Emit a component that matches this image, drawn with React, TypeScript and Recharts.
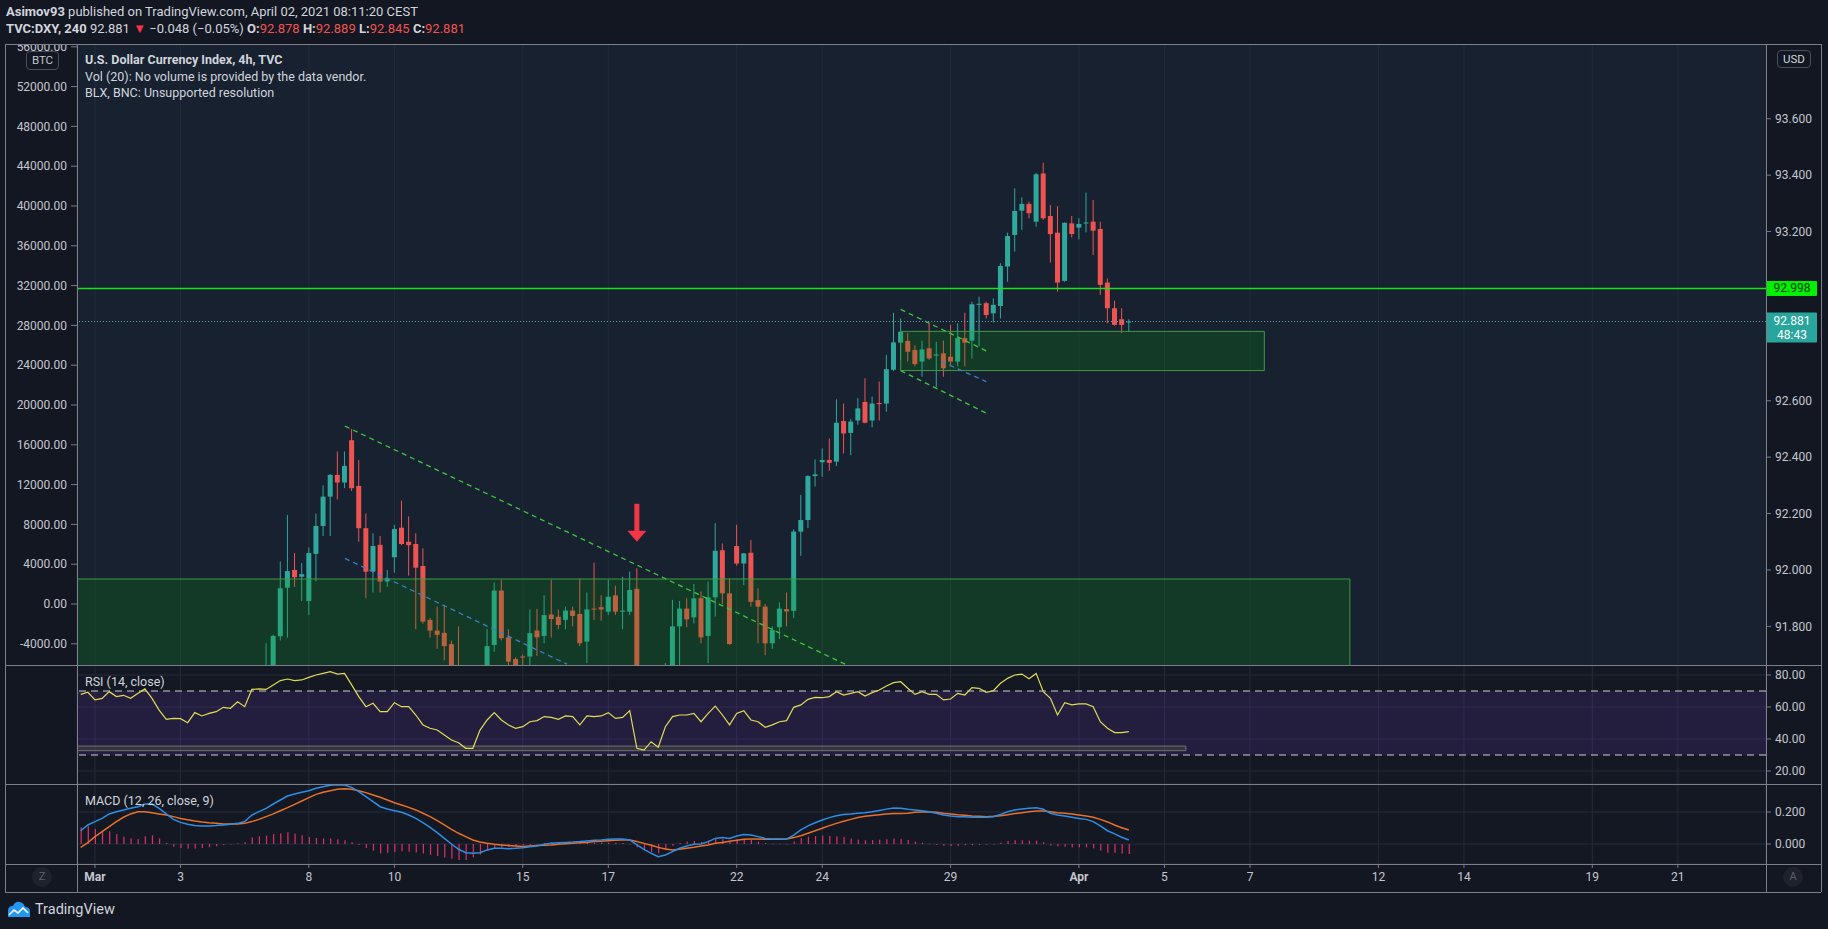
import React from 'react';
import {
  ComposedChart,
  Bar,
  Line,
  XAxis,
  YAxis,
  CartesianGrid,
  ReferenceArea,
  ReferenceLine,
  ReferenceDot,
} from 'recharts';

// ---------------- DATA ----------------
// bar index of the first entry (4h bars, 6 per trading day; index 0 = 1 March first bar)
const FIRST_INDEX = -2;

// OHLC (null = bar lies fully below the visible price range)
const openVals = [
  null, null,
  null, null, null, null, null, null,
  null, null, null, null, null, null,
  null, null, null, null, null, null,
  null, null, null, null, null, null,
  91.60, 91.63, 91.765, 91.937, 92.0, 91.976,
  91.89, 92.057, 92.156, 92.26, 92.337, 92.31,
  92.46, 92.298, 92.148, 91.994, 92.089, 91.959,
  92.045, 92.15, 92.10, 92.092, 92.014, 91.823,
  91.785, 91.777, 91.737, 91.63, null, null,
  null, 91.62, 91.734, 91.927, 91.761, 91.684,
  91.693, 91.693, 91.785, 91.766, 91.842, 91.834,
  91.823, 91.856, 91.844, 91.746, 91.863, 91.868,
  91.852, 91.91, 91.852, 91.852, 91.933, null,
  null, null, 91.60, 91.64, 91.80, 91.863,
  91.832, 91.9, 91.766, 91.903, 92.07, 91.917,
  92.085, 92.023, 92.061, 91.893, 91.87, 91.74,
  91.797, 91.861, 91.855, 92.136, 92.177, 92.333,
  92.382, 92.39, 92.384, 92.528, 92.486, 92.53,
  92.596, 92.53, 92.592, 92.59, 92.71, 92.806,
  92.812, 92.78, 92.739, 92.786, 92.76, 92.768,
  92.756, 92.739, 92.822, 92.813, 92.94, 92.946,
  92.91, 92.936, 93.076, 93.188, 93.274, 93.298,
  93.235, 93.406, 93.255, 93.196, 93.025, 93.229,
  93.214, 93.229, 93.235, 93.209, 93.019, 92.928,
  92.889, 92.878,
];
const highVals = [
  null, null,
  null, null, null, null, null, null,
  null, null, null, null, null, null,
  null, null, null, null, null, null,
  null, null, null, null, null, null,
  91.74, 91.77, 92.03, 92.195, 92.06, 92.025,
  92.08, 92.20, 92.30, 92.34, 92.42, 92.42,
  92.50, 92.39, 92.20, 92.13, 92.12, 92.0,
  92.16, 92.246, 92.19, 92.13, 92.077, 91.83,
  91.87, 91.876, 91.75, 91.80, null, null,
  null, 91.79, 91.955, 91.965, 91.79, 91.69,
  91.70, 91.86, 91.862, 91.91, 91.965, 91.86,
  91.87, 91.87, 91.97, 91.92, 92.026, 91.91,
  91.965, 91.944, 91.976, 91.994, 92.006, null,
  null, null, 91.67, 91.894, 91.89, 91.90,
  91.95, 91.924, 91.959, 92.166, 92.094, 91.97,
  92.16, 92.06, 92.106, 91.935, 91.88, 91.80,
  91.885, 91.92, 92.144, 92.266, 92.336, 92.392,
  92.431, 92.466, 92.605, 92.59, 92.535, 92.609,
  92.68, 92.615, 92.668, 92.763, 92.912, 92.892,
  92.841, 92.797, 92.813, 92.875, 92.809, 92.813,
  92.869, 92.875, 92.912, 92.951, 92.969, 92.951,
  92.963, 93.088, 93.196, 93.353, 93.321, 93.306,
  93.408, 93.444, 93.294, 93.29, 93.232, 93.255,
  93.247, 93.338, 93.312, 93.235, 93.034, 92.955,
  92.928, 92.889,
];
const lowVals = [
  null, null,
  null, null, null, null, null, null,
  null, null, null, null, null, null,
  null, null, null, null, null, null,
  null, null, null, null, null, null,
  91.58, 91.62, 91.75, 91.76, 91.94, 91.89,
  91.84, 91.96, 92.12, 92.12, 92.25, 92.29,
  92.28, 92.10, 91.90, 91.92, 91.92, 91.94,
  91.99, 92.088, 91.98, 91.79, 91.81, 91.76,
  91.72, 91.68, 91.60, 91.58, null, null,
  null, 91.60, 91.71, 91.75, 91.66, 91.62,
  91.65, 91.66, 91.695, 91.74, 91.76, 91.79,
  91.79, 91.80, 91.73, 91.67, 91.823, 91.82,
  91.84, 91.84, 91.79, 91.84, 91.60, null,
  null, null, 91.58, 91.62, 91.66, 91.797,
  91.81, 91.74, 91.67, 91.835, 91.88, 91.735,
  92.015, 91.946, 91.87, 91.74, 91.698, 91.72,
  91.755, 91.80, 91.83, 92.05, 92.148, 92.296,
  92.33, 92.352, 92.368, 92.413, 92.407, 92.515,
  92.52, 92.506, 92.53, 92.561, 92.705, 92.745,
  92.739, 92.722, 92.685, 92.745, 92.648, 92.685,
  92.722, 92.722, 92.722, 92.75, 92.794, 92.892,
  92.877, 92.892, 93.022, 93.129, 93.206, 93.247,
  93.217, 93.241, 93.09, 92.987, 93.022, 93.179,
  93.172, 93.197, 93.117, 92.975, 92.875, 92.866,
  92.84, 92.845,
];
const closeVals = [
  null, null,
  null, null, null, null, null, null,
  null, null, null, null, null, null,
  null, null, null, null, null, null,
  null, null, null, null, null, null,
  91.63, 91.766, 91.935, 91.996, 91.974, 91.985,
  92.06, 92.156, 92.26, 92.337, 92.31, 92.369,
  92.29, 92.148, 91.994, 92.085, 91.959, 91.97,
  92.145, 92.092, 92.088, 92.008, 91.817, 91.785,
  91.77, 91.73, 91.64, 91.62, null, null,
  null, 91.73, 91.927, 91.758, 91.675, 91.64,
  91.69, 91.776, 91.761, 91.84, 91.826, 91.805,
  91.856, 91.837, 91.74, 91.86, 91.86, 91.86,
  91.905, 91.852, 91.856, 91.929, 91.63, null,
  null, null, 91.64, 91.80, 91.863, 91.825,
  91.899, 91.761, 91.903, 92.068, 91.917, 91.737,
  92.023, 92.059, 91.887, 91.87, 91.74, 91.787,
  91.863, 91.853, 92.136, 92.177, 92.333, 92.339,
  92.39, 92.38, 92.522, 92.484, 92.526, 92.573,
  92.522, 92.59, 92.588, 92.712, 92.807, 92.845,
  92.774, 92.73, 92.782, 92.75, 92.764, 92.715,
  92.739, 92.822, 92.806, 92.942, 92.944, 92.904,
  92.94, 93.078, 93.184, 93.273, 93.298, 93.265,
  93.403, 93.247, 93.191, 93.019, 93.231, 93.191,
  93.227, 93.232, 93.203, 93.011, 92.928, 92.869,
  92.869, 92.881,
];

// RSI (14, close)
const rsiVals = [
  67.9, 69.2,
  64.4, 65.4, 69.6, 66.5, 67.3, 65.4,
  68.5, 71.3, 65.4, 58.1, 52.3, 52.9,
  52.7, 50.2, 56.5, 54.4, 56.0, 57.1,
  59.8, 59.2, 63.3, 60.2, 71.0, 71.3,
  71.0, 73.8, 76.5, 77.5, 76.5, 76.9,
  78.5, 80.0, 81.0, 82.1, 80.6, 81.0,
  73.8, 66.5, 60.2, 62.3, 57.1, 57.1,
  62.7, 60.2, 60.2, 55.0, 48.8, 46.7,
  45.6, 42.5, 39.4, 37.7, 34.2, 34.2,
  45.6, 51.9, 56.5, 51.9, 48.8, 46.7,
  47.7, 50.8, 51.5, 54.0, 53.5, 52.3,
  54.4, 54.0, 48.8, 54.4, 54.0, 54.4,
  56.5, 52.9, 53.5, 57.7, 34.2, 33.1,
  38.3, 34.8, 47.7, 54.0, 55.0, 55.0,
  56.0, 50.8, 56.0, 60.6, 55.0, 48.8,
  56.0, 57.7, 51.9, 50.8, 47.3, 48.8,
  50.8, 51.5, 59.8, 61.3, 64.8, 66.0,
  65.8, 66.5, 69.6, 67.5, 68.5, 69.6,
  66.9, 69.0, 70.6, 73.1, 75.2, 75.8,
  71.7, 67.9, 69.6, 67.9, 67.9, 64.4,
  65.0, 68.5, 67.5, 72.1, 71.7, 69.2,
  70.2, 74.8, 77.9, 80.0, 80.6, 77.7,
  81.0, 69.6, 65.4, 55.0, 62.7, 61.3,
  61.9, 61.9, 60.2, 50.8, 46.7, 44.0,
  44.0, 44.6,
];

// MACD (12, 26, close, 9)
const macdVals = [
  0.083, 0.119,
  0.140, 0.160, 0.188, 0.202, 0.213, 0.223,
  0.233, 0.250, 0.250, 0.223, 0.188, 0.154,
  0.135, 0.123, 0.115, 0.113, 0.113, 0.115,
  0.119, 0.123, 0.129, 0.140, 0.181, 0.202,
  0.223, 0.250, 0.275, 0.300, 0.313, 0.323,
  0.333, 0.348, 0.358, 0.367, 0.371, 0.369,
  0.354, 0.327, 0.296, 0.265, 0.233, 0.219,
  0.208, 0.198, 0.181, 0.160, 0.133, 0.104,
  0.071, 0.035, 0.000, -0.033, -0.054, -0.058,
  -0.054, -0.037, -0.027, -0.027, -0.029, -0.027,
  -0.023, -0.017, -0.012, -0.002, 0.004, 0.008,
  0.010, 0.012, 0.015, 0.019, 0.023, 0.025,
  0.029, 0.031, 0.031, 0.025, -0.006, -0.033,
  -0.058, -0.079, -0.069, -0.048, -0.027, -0.012,
  -0.002, 0.000, 0.015, 0.035, 0.040, 0.035,
  0.050, 0.060, 0.056, 0.046, 0.035, 0.031,
  0.031, 0.031, 0.056, 0.088, 0.113, 0.133,
  0.150, 0.165, 0.177, 0.185, 0.188, 0.192,
  0.196, 0.202, 0.210, 0.218, 0.225, 0.224,
  0.217, 0.213, 0.208, 0.202, 0.192, 0.181,
  0.175, 0.171, 0.171, 0.167, 0.167, 0.167,
  0.171, 0.185, 0.202, 0.213, 0.219, 0.223,
  0.227, 0.217, 0.192, 0.181, 0.175, 0.167,
  0.160, 0.154, 0.140, 0.113, 0.083, 0.063,
  0.042, 0.025,
];
const signalVals = [
  -0.021, 0.008,
  0.046, 0.077, 0.108, 0.140, 0.167, 0.188,
  0.202, 0.202, 0.196, 0.188, 0.181, 0.171,
  0.160, 0.152, 0.144, 0.138, 0.133, 0.129,
  0.125, 0.125, 0.125, 0.129, 0.140, 0.154,
  0.171, 0.188, 0.208, 0.227, 0.248, 0.269,
  0.290, 0.310, 0.323, 0.333, 0.342, 0.346,
  0.342, 0.333, 0.321, 0.306, 0.292, 0.275,
  0.258, 0.244, 0.229, 0.213, 0.192, 0.171,
  0.146, 0.119, 0.092, 0.067, 0.046, 0.025,
  0.012, 0.004, -0.002, -0.006, -0.010, -0.012,
  -0.015, -0.012, -0.010, -0.008, -0.006, -0.002,
  0.002, 0.004, 0.008, 0.010, 0.015, 0.017,
  0.021, 0.023, 0.025, 0.025, 0.015, 0.004,
  -0.008, -0.021, -0.031, -0.037, -0.033, -0.027,
  -0.021, -0.012, -0.006, 0.004, 0.010, 0.017,
  0.023, 0.029, 0.031, 0.031, 0.029, 0.029,
  0.029, 0.031, 0.040, 0.052, 0.067, 0.083,
  0.098, 0.115, 0.129, 0.142, 0.154, 0.165,
  0.173, 0.178, 0.183, 0.188, 0.191, 0.191,
  0.192, 0.198, 0.200, 0.200, 0.198, 0.192,
  0.188, 0.183, 0.179, 0.175, 0.173, 0.171,
  0.173, 0.177, 0.183, 0.190, 0.196, 0.202,
  0.206, 0.206, 0.202, 0.196, 0.192, 0.188,
  0.181, 0.175, 0.167, 0.154, 0.138, 0.119,
  0.102, 0.088,
];
const histVals = [
  0.104, 0.111,
  0.094, 0.083, 0.080, 0.062, 0.046, 0.035,
  0.031, 0.048, 0.054, 0.035, 0.007, -0.017,
  -0.025, -0.029, -0.029, -0.025, -0.020, -0.014,
  -0.006, -0.002, 0.004, 0.011, 0.041, 0.048,
  0.052, 0.062, 0.067, 0.073, 0.065, 0.054,
  0.043, 0.038, 0.035, 0.034, 0.029, 0.023,
  0.012, -0.006, -0.025, -0.041, -0.059, -0.056,
  -0.050, -0.046, -0.048, -0.053, -0.059, -0.067,
  -0.075, -0.084, -0.092, -0.100, -0.100, -0.083,
  -0.066, -0.041, -0.025, -0.021, -0.019, -0.015,
  -0.008, -0.005, -0.002, 0.006, 0.010, 0.010,
  0.008, 0.008, 0.007, 0.009, 0.008, 0.008,
  0.008, 0.008, 0.006, 0.000, -0.021, -0.037,
  -0.050, -0.058, -0.038, -0.011, 0.006, 0.015,
  0.019, 0.012, 0.021, 0.031, 0.030, 0.018,
  0.027, 0.031, 0.025, 0.015, 0.006, 0.002,
  0.002, 0.000, 0.016, 0.036, 0.046, 0.050,
  0.052, 0.050, 0.048, 0.043, 0.034, 0.027,
  0.023, 0.024, 0.027, 0.030, 0.034, 0.033,
  0.025, 0.015, 0.008, 0.002, -0.006, -0.011,
  -0.013, -0.012, -0.008, -0.008, -0.006, -0.004,
  -0.002, 0.008, 0.019, 0.023, 0.023, 0.021,
  0.021, 0.011, -0.010, -0.015, -0.017, -0.021,
  -0.021, -0.021, -0.027, -0.041, -0.055, -0.056,
  -0.060, -0.063,
];

// time axis: first bar of each labelled trading day
const dayTicks = [0, 12, 30, 42, 60, 72, 90, 102, 120, 138, 150, 162, 180, 192, 210, 222];
const dayLabels = ['Mar', '3', '8', '10', '15', '17', '22', '24', '29', 'Apr', '5', '7', '12', '14', '19', '21'];

// price scale: grid levels, and the levels whose labels are not hidden behind the price badges
const priceGridLevels = [91.8, 92.0, 92.2, 92.4, 92.6, 92.8, 93.0, 93.2, 93.4, 93.6];
const priceLabelLevels = [91.8, 92.0, 92.2, 92.4, 92.6, 93.2, 93.4, 93.6];
const btcTicks = [-4000, 0, 4000, 8000, 12000, 16000, 20000, 24000, 28000, 32000, 36000, 40000, 44000, 48000, 52000, 56000];
const rsiTicks = [20, 40, 60, 80];
const macdTicks = [0, 0.2];

// drawings
const resistanceLevel = 92.998;
const lastPrice = 92.881;
const lastCountdown = '48:43';
const bigBox = { x1: -10, x2: 176.0, y1: 91.5, y2: 91.968 };
const smallBox = { x1: 113.0, x2: 164.0, y1: 92.707, y2: 92.846 };
const trendUpper = [{ x: 35.06, y: 92.51 }, { x: 105.2, y: 91.666 }];
const trendLower = [{ x: 35.06, y: 92.041 }, { x: 66.2, y: 91.666 }];
const flagUpper = [{ x: 113.0, y: 92.924 }, { x: 125.0, y: 92.777 }];
const flagLower = [{ x: 113.0, y: 92.707 }, { x: 125.0, y: 92.556 }];
const flagMid = [{ x: 118.7, y: 92.739 }, { x: 125.0, y: 92.668 }];
const arrowPoint = { x: 76, y: 92.1 };
const rsiBox = { x1: -10, x2: 153.0, y1: 32.7, y2: 35.6 };

// ---------------- LAYOUT / STYLE ----------------
const X_DOMAIN: [number, number] = [-2.52, 234.36];
const PRICE_DOMAIN: [number, number] = [91.663, 93.865];
const BTC_DOMAIN: [number, number] = [-6130, 56280];
const RSI_DOMAIN: [number, number] = [11.875, 86.25];
const MACD_DOMAIN: [number, number] = [-0.125, 0.375];

const BG = '#131722';
const PANE_BG = '#172130';
const LOWER_BG = '#141822';
const GRID = '#222b3a';
const FRAME = '#7c7f89';
const TEXT = '#d1d4dc';
const AXIS_TEXT = '#c3c6ce';
const UP = '#2fa89d';
const DOWN = '#ef5350';
const LEVEL_GREEN = '#1fe01f';
const FONT = 'Roboto, "Open Sans", sans-serif';

const CHART_LEFT = 5;
const CHART_W = 1816;
const LEFT_AXIS_W = 72;
const RIGHT_AXIS_W = 55;

const candleData = openVals
  .map((o, k) => ({ i: k + FIRST_INDEX, o, h: highVals[k], l: lowVals[k], c: closeVals[k] }))
  .filter((d) => d.o != null);

const indicatorData = rsiVals.map((r, k) => ({
  i: k + FIRST_INDEX,
  rsi: r,
  macd: macdVals[k],
  signal: signalVals[k],
  hist: histVals[k],
}));

const Candle = (props: any) => {
  const { x, y, width, height, payload } = props;
  if (!payload || payload.o == null || x == null || y == null) return null;
  const { o, h, l, c } = payload;
  const top = Math.min(y, y + height);
  const H = Math.abs(height);
  const span = h - l || 1e-9;
  const k = H / span;
  const yO = top + (h - o) * k;
  const yC = top + (h - c) * k;
  const color = c >= o ? UP : DOWN;
  const cx = x + width / 2;
  const bTop = Math.min(yO, yC);
  const bH = Math.max(1, Math.abs(yO - yC));
  return (
    <g>
      <line x1={cx} x2={cx} y1={top} y2={top + H} stroke={color} strokeWidth={1} />
      <rect x={x} y={bTop} width={width} height={bH} fill={color} />
    </g>
  );
};

const HistBar = (props: any) => {
  const { x, y, width, height } = props;
  if (x == null || y == null) return null;
  const cx = x + width / 2;
  const top = Math.min(y, y + height);
  return <rect x={cx - 0.6} y={top} width={1.2} height={Math.max(0.5, Math.abs(height))} fill="#e0306a" />;
};

const DownArrow = (props: any) => {
  const { cx, cy } = props;
  if (cx == null || cy == null) return null;
  return (
    <g>
      <rect x={cx - 2.5} y={cy - 38} width={5} height={28} fill="#f23645" />
      <polygon points={`${cx - 9.5},${cy - 11} ${cx + 9.5},${cy - 11} ${cx},${cy}`} fill="#f23645" />
    </g>
  );
};

const GreenBadge = (props: any) => {
  const vb = props.viewBox || {};
  const right = (vb.x || 0) + (vb.width || 0);
  const cy = vb.y || 0;
  return (
    <g>
      <rect x={right} y={cy - 7.5} width={51} height={15} fill="#00f000" rx={1} />
      <text x={right + 26} y={cy + 0.5} textAnchor="middle" dominantBaseline="middle" fontSize={12} fontFamily={FONT} fill="#0d3b0d">
        {resistanceLevel.toFixed(3)}
      </text>
    </g>
  );
};

const LastBadge = (props: any) => {
  const vb = props.viewBox || {};
  const right = (vb.x || 0) + (vb.width || 0);
  const cy = vb.y || 0;
  return (
    <g>
      <rect x={right} y={cy - 9} width={51} height={30} fill="#28a59c" rx={1} />
      <text x={right + 26} y={cy + 0.5} textAnchor="middle" dominantBaseline="middle" fontSize={12} fontFamily={FONT} fill="#ffffff">
        {lastPrice.toFixed(3)}
      </text>
      <text x={right + 26} y={cy + 14.5} textAnchor="middle" dominantBaseline="middle" fontSize={12} fontFamily={FONT} fill="#ffffff">
        {lastCountdown}
      </text>
    </g>
  );
};

const TimeTick = (props: any) => {
  const { x, y, payload } = props;
  const idx = dayTicks.indexOf(payload.value);
  const label = idx >= 0 ? dayLabels[idx] : '';
  const bold = label === 'Mar' || label === 'Apr';
  return (
    <text x={x} y={y + 8} textAnchor="middle" dominantBaseline="middle" fontSize={12} fontFamily={FONT} fontWeight={bold ? 700 : 400} fill={AXIS_TEXT}>
      {label}
    </text>
  );
};

const tickStyle = { fill: AXIS_TEXT, fontSize: 12, fontFamily: FONT };

const hLine = (top: number, left = 5, width = 1816): React.CSSProperties => ({
  position: 'absolute', left, top, width, height: 1, background: FRAME, zIndex: 5,
});
const vLine = (left: number, top = 44, height = 848): React.CSSProperties => ({
  position: 'absolute', left, top, width: 1, height, background: FRAME, zIndex: 5,
});

const priceGridGenerator = (props: any) => {
  const scale = props && props.yAxis && props.yAxis.scale;
  if (typeof scale !== 'function') return [];
  return priceGridLevels.map((v) => scale(v));
};

export default function App() {
  return (
    <div style={{ position: 'absolute', left: 0, top: 0, width: 1828, height: 929, background: BG, fontFamily: FONT, color: TEXT, overflow: 'hidden' }}>
      {/* header */}
      <div style={{ position: 'absolute', left: 6, top: 3, fontSize: 13, lineHeight: '17px', whiteSpace: 'nowrap' }}>
        <div>
          <b>Asimov93</b> published on TradingView.com, April 02, 2021 08:11:20 CEST
        </div>
        <div>
          <b>TVC:DXY, 240</b> 92.881 <span style={{ color: '#f23645' }}>▼</span> −0.048 (−0.05%){' '}
          <b>O:</b><span style={{ color: '#ef5350' }}>92.878</span>{' '}
          <b>H:</b><span style={{ color: '#ef5350' }}>92.889</span>{' '}
          <b>L:</b><span style={{ color: '#ef5350' }}>92.845</span>{' '}
          <b>C:</b><span style={{ color: '#ef5350' }}>92.881</span>
        </div>
      </div>

      {/* main price pane */}
      <div style={{ position: 'absolute', left: CHART_LEFT, top: 44 }}>
        <ComposedChart width={CHART_W} height={621} data={candleData} margin={{ top: 0, right: 0, bottom: 0, left: 0 }}>
          <CartesianGrid yAxisId="price" stroke={GRID} fill={PANE_BG} fillOpacity={1} horizontalCoordinatesGenerator={priceGridGenerator} />
          <XAxis dataKey="i" type="number" domain={X_DOMAIN} allowDataOverflow ticks={dayTicks} interval={0} hide height={0} />
          <YAxis
            yAxisId="btc"
            orientation="left"
            type="number"
            domain={BTC_DOMAIN}
            allowDataOverflow
            ticks={btcTicks}
            interval={0}
            width={LEFT_AXIS_W}
            tickFormatter={(v: number) => v.toFixed(2)}
            tick={tickStyle}
            tickSize={6}
            tickMargin={4}
            tickLine={{ stroke: '#787b86' }}
            axisLine={false}
          />
          <YAxis
            yAxisId="price"
            orientation="right"
            type="number"
            domain={PRICE_DOMAIN}
            allowDataOverflow
            ticks={priceLabelLevels}
            interval={0}
            width={RIGHT_AXIS_W}
            tickFormatter={(v: number) => v.toFixed(3)}
            tick={tickStyle}
            tickSize={5}
            tickMargin={4}
            tickLine={{ stroke: '#787b86' }}
            axisLine={false}
          />
          <Bar
            yAxisId="price"
            dataKey={(d: any) => [d.l, d.h]}
            barSize={5}
            shape={<Candle />}
            isAnimationActive={false}
          />
          <ReferenceArea
            yAxisId="price"
            x1={bigBox.x1}
            x2={bigBox.x2}
            y1={bigBox.y1}
            y2={bigBox.y2}
            ifOverflow="hidden"
            fill="rgba(10,150,10,0.22)"
            fillOpacity={1}
            stroke="#3f9a45"
            strokeWidth={1}
            zIndex={600}
          />
          <ReferenceArea
            yAxisId="price"
            x1={smallBox.x1}
            x2={smallBox.x2}
            y1={smallBox.y1}
            y2={smallBox.y2}
            ifOverflow="hidden"
            fill="rgba(10,150,10,0.22)"
            fillOpacity={1}
            stroke="#3f9a45"
            strokeWidth={1}
            zIndex={600}
          />
          <ReferenceLine yAxisId="price" segment={trendUpper} stroke="#3fc43f" strokeWidth={1.3} strokeDasharray="5 4" ifOverflow="hidden" zIndex={650} />
          <ReferenceLine yAxisId="price" segment={trendLower} stroke="#3a7fc4" strokeWidth={1.3} strokeDasharray="5 4" ifOverflow="hidden" zIndex={650} />
          <ReferenceLine yAxisId="price" segment={flagUpper} stroke="#3fc43f" strokeWidth={1.3} strokeDasharray="5 4" zIndex={650} />
          <ReferenceLine yAxisId="price" segment={flagLower} stroke="#3fc43f" strokeWidth={1.3} strokeDasharray="5 4" zIndex={650} />
          <ReferenceLine yAxisId="price" segment={flagMid} stroke="#3a7fc4" strokeWidth={1.3} strokeDasharray="5 4" zIndex={650} />
          <ReferenceLine yAxisId="price" y={lastPrice} stroke="#5fa3a8" strokeDasharray="1 2" zIndex={650} />
          <ReferenceLine yAxisId="price" y={lastPrice} stroke="none" strokeOpacity={0} zIndex={900} label={<LastBadge />} />
          <ReferenceLine
            yAxisId="price"
            segment={[{ x: X_DOMAIN[0], y: resistanceLevel }, { x: X_DOMAIN[1], y: resistanceLevel }]}
            stroke={LEVEL_GREEN}
            strokeWidth={1.3}
            zIndex={650}
          />
          <ReferenceLine yAxisId="price" y={resistanceLevel} stroke="none" strokeOpacity={0} zIndex={900} label={<GreenBadge />} />
          <ReferenceDot yAxisId="price" x={arrowPoint.x} y={arrowPoint.y} r={1} shape={<DownArrow />} zIndex={700} />
        </ComposedChart>
      </div>

      {/* RSI pane */}
      <div style={{ position: 'absolute', left: CHART_LEFT, top: 665 }}>
        <ComposedChart width={CHART_W} height={119} data={indicatorData} margin={{ top: 0, right: 0, bottom: 0, left: LEFT_AXIS_W }}>
          <CartesianGrid stroke={GRID} fill={LOWER_BG} fillOpacity={1} />
          <XAxis dataKey="i" type="number" domain={X_DOMAIN} allowDataOverflow ticks={dayTicks} interval={0} hide height={0} />
          <YAxis
            orientation="right"
            type="number"
            domain={RSI_DOMAIN}
            allowDataOverflow
            ticks={rsiTicks}
            interval={0}
            width={RIGHT_AXIS_W}
            tickFormatter={(v: number) => v.toFixed(2)}
            tick={tickStyle}
            tickSize={5}
            tickMargin={4}
            tickLine={{ stroke: '#787b86' }}
            axisLine={false}
          />
          <ReferenceArea y1={30} y2={70} fill="#7a3fd6" fillOpacity={0.16} ifOverflow="hidden" />
          <ReferenceLine y={70} stroke="#c9ccd4" strokeDasharray="7 5" />
          <ReferenceLine y={30} stroke="#c9ccd4" strokeDasharray="7 5" />
          <ReferenceArea x1={rsiBox.x1} x2={rsiBox.x2} y1={rsiBox.y1} y2={rsiBox.y2} ifOverflow="hidden" fill="#5d6a3a" fillOpacity={0.3} stroke="#7d8088" strokeWidth={0.8} />
          <Line dataKey="rsi" type="linear" stroke="#e1da55" strokeWidth={1.2} dot={false} isAnimationActive={false} />
        </ComposedChart>
      </div>

      {/* MACD pane + time axis */}
      <div style={{ position: 'absolute', left: CHART_LEFT, top: 784 }}>
        <ComposedChart width={CHART_W} height={108} data={indicatorData} margin={{ top: 0, right: 0, bottom: 0, left: LEFT_AXIS_W }}>
          <CartesianGrid stroke={GRID} fill={LOWER_BG} fillOpacity={1} />
          <XAxis
            dataKey="i"
            type="number"
            domain={X_DOMAIN}
            allowDataOverflow
            ticks={dayTicks}
            interval={0}
            height={28}
            tick={<TimeTick />}
            tickSize={4}
            tickMargin={2}
            tickLine={{ stroke: '#787b86' }}
            axisLine={false}
          />
          <YAxis
            orientation="right"
            type="number"
            domain={MACD_DOMAIN}
            allowDataOverflow
            ticks={macdTicks}
            interval={0}
            width={RIGHT_AXIS_W}
            tickFormatter={(v: number) => v.toFixed(3)}
            tick={tickStyle}
            tickSize={5}
            tickMargin={4}
            tickLine={{ stroke: '#787b86' }}
            axisLine={false}
          />
          <Bar dataKey="hist" barSize={2} shape={<HistBar />} isAnimationActive={false} />
          <Line dataKey="signal" type="linear" stroke="#e8702a" strokeWidth={1.5} dot={false} isAnimationActive={false} />
          <Line dataKey="macd" type="linear" stroke="#2e8ee6" strokeWidth={1.5} dot={false} isAnimationActive={false} />
        </ComposedChart>
      </div>

      {/* frame lines */}
      <div style={hLine(44)} />
      <div style={hLine(665)} />
      <div style={hLine(784)} />
      <div style={hLine(864)} />
      <div style={hLine(892)} />
      <div style={vLine(5)} />
      <div style={vLine(77)} />
      <div style={vLine(1766)} />
      <div style={vLine(1821)} />

      {/* pane legends */}
      <div style={{ position: 'absolute', left: 85, top: 52, fontSize: 12.5, lineHeight: '16.5px', zIndex: 6, whiteSpace: 'nowrap' }}>
        <div style={{ fontWeight: 700 }}>U.S. Dollar Currency Index, 4h, TVC</div>
        <div>Vol (20): No volume is provided by the data vendor.</div>
        <div>BLX, BNC: Unsupported resolution</div>
      </div>
      <div style={{ position: 'absolute', left: 85, top: 674, fontSize: 12.5, lineHeight: '16px', zIndex: 6 }}>RSI (14, close)</div>
      <div style={{ position: 'absolute', left: 85, top: 793, fontSize: 12.5, lineHeight: '16px', zIndex: 6 }}>MACD (12, 26, close, 9)</div>

      {/* scale badges */}
      <div style={{ position: 'absolute', left: 26, top: 51, width: 31, height: 17, border: '1px solid #4a4e5a', borderRadius: 4, background: BG, fontSize: 11.5, lineHeight: '17px', textAlign: 'center', zIndex: 7, color: '#c3c6ce' }}>BTC</div>
      <div style={{ position: 'absolute', left: 1777, top: 50, width: 32, height: 16, border: '1px solid #4a4e5a', borderRadius: 4, background: BG, fontSize: 11.5, lineHeight: '16px', textAlign: 'center', zIndex: 7, color: '#d1d4dc' }}>USD</div>

      {/* axis corner buttons */}
      <div style={{ position: 'absolute', left: 32, top: 867, width: 20, height: 20, borderRadius: 10, background: '#1e222d', color: '#5d606b', fontSize: 11, lineHeight: '20px', textAlign: 'center', zIndex: 7 }}>Z</div>
      <div style={{ position: 'absolute', left: 1783, top: 867, width: 20, height: 20, borderRadius: 10, background: '#1e222d', color: '#5d606b', fontSize: 11, lineHeight: '20px', textAlign: 'center', zIndex: 7 }}>A</div>

      {/* footer */}
      <div style={{ position: 'absolute', left: 6, top: 900, display: 'flex', alignItems: 'center', gap: 3 }}>
        <svg width={26} height={18} viewBox="0 0 26 18">
          <path d="M2 17 L2 11 Q2 6 7 6 Q9 1 14 2 Q18 3 19 7 Q24 7 24 12 L24 17 Z" fill="#2196f3" />
          <path d="M3 15 L8 10 L12 13 L17 8 L22 13" stroke="#ffffff" strokeWidth={1.6} fill="none" />
        </svg>
        <span style={{ fontSize: 14.5, color: TEXT }}>TradingView</span>
      </div>
    </div>
  );
}
